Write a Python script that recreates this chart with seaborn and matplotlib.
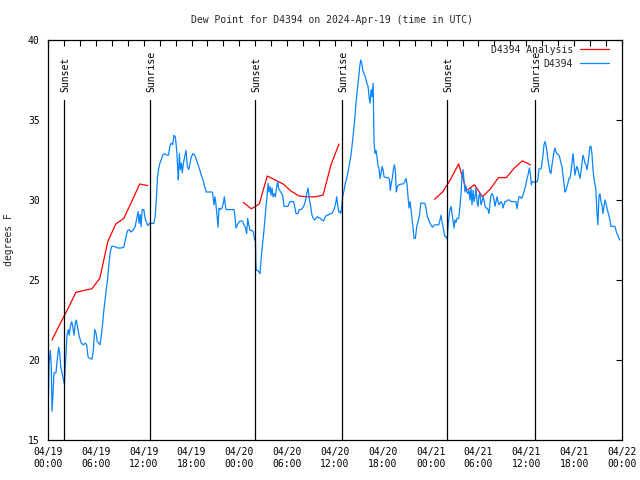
import numpy as np
import pandas as pd
import matplotlib
matplotlib.use("Agg")
import matplotlib.pyplot as plt
import matplotlib.transforms as mtransforms
import seaborn as sns

# ---------------- data ----------------
obs_hours = [0.03,0.13,0.29,0.41,0.50,0.63,0.75,1.00,1.13,1.34,1.47,1.59,1.76,1.92,2.05,2.13,2.26,2.38,2.55,2.67,2.80,2.97,3.10,3.26,3.43,3.55,3.73,3.93,4.18,4.43,4.68,4.85,5.02,5.27,5.52,5.68,5.86,6.02,6.18,6.36,6.52,6.69,6.86,6.98,7.15,7.31,7.49,7.65,7.81,7.99,8.31,8.74,9.16,9.50,9.66,9.82,10.0,10.2,10.36,10.65,10.93,11.18,
    11.31,11.43,11.56,11.68,11.81,12.02,12.14,12.31,12.52,12.73,13.02,13.27,13.44,13.61,13.74,13.86,14.03,14.20,14.37,14.62,14.87,15.12,15.30,15.46,15.64,15.80,15.97,16.15,16.27,16.35,16.48,16.60,16.73,16.85,16.98,17.15,17.31,17.48,17.65,17.81,17.98,18.19,18.40,18.60,18.82,19.03,19.23,19.44,19.65,19.86,20.28,20.57,20.65,20.82,20.95,21.07,21.20,21.33,21.45,21.58,21.83,21.99,22.12,22.24,22.33,22.83,23.33,23.46,23.58,23.75,24.00,24.21,24.42,24.58,24.75,24.92,25.05,25.17,25.34,25.55,25.76,25.93,26.02,26.08,26.13,26.30,26.46,26.59,26.72,26.84,26.97,27.09,27.22,27.35,27.47,27.60,27.72,27.85,27.97,28.10,28.22,28.35,28.51,28.69,28.81,28.94,29.19,29.44,29.60,29.85,30.10,30.35,30.60,30.81,30.94,31.11,31.36,31.52,31.77,32.07,32.27,32.45,32.61,32.78,32.95,33.11,33.28,33.45,33.62,33.78,33.95,34.16,34.37,34.58,34.78,34.96,35.12,35.37,35.62,35.87,36.09,36.21,36.34,36.46,36.59,36.71,36.84,36.96,37.13,37.29,37.47,37.63,37.79,37.97,38.13,38.30,38.47,38.63,38.80,38.98,39.10,39.23,39.35,39.48,39.65,39.81,39.99,40.15,40.27,40.40,40.53,40.65,40.78,40.85,40.90,41.02,41.15,41.27,41.40,41.52,41.65,41.78,41.90,42.03,42.15,42.40,42.65,42.82,42.94,43.07,43.19,43.32,43.45,43.57,43.70,43.82,44.03,44.32,44.57,44.75,44.91,45.04,45.16,45.29,45.41,45.54,45.66,45.79,45.91,46.08,46.26,46.51,46.63,46.76,47.01,47.26,47.42,47.59,47.76,47.92,48.09,48.26,48.51,48.76,49.01,49.17,49.30,49.42,49.55,49.67,49.80,49.92,50.09,50.17,50.30,50.42,50.55,50.67,50.80,50.93,51.05,51.18,51.30,51.51,51.68,51.81,51.93,52.06,52.18,52.31,52.43,52.56,52.68,52.81,52.93,53.06,53.18,53.31,53.43,53.56,53.68,53.81,53.94,54.06,54.19,54.31,54.44,54.57,54.69,54.82,54.94,55.07,55.19,55.32,55.44,55.57,55.69,55.82,55.95,56.07,56.20,56.32,56.45,56.57,56.70,56.82,56.95,57.07,57.20,57.32,57.45,57.66,57.86,58.08,58.33,58.58,58.70,58.83,58.96,59.08,59.24,59.42,59.58,59.75,59.93,60.09,60.25,60.38,60.50,60.63,60.75,60.88,61.05,61.21,61.38,61.46,61.59,61.84,61.96,62.09,62.21,62.34,62.46,62.59,62.71,62.84,62.96,63.09,63.22,63.34,63.47,63.59,63.72,63.84,64.09,64.22,64.34,64.47,64.60,64.72,64.85,64.97,65.10,65.22,65.35,65.47,65.60,65.72,65.85,65.97,66.10,66.23,66.35,66.48,66.60,66.73,66.85,66.98,67.10,67.23,67.35,67.48,67.60,67.73,67.86,67.98,68.11,68.23,68.36,68.48,68.61,68.73,68.86,68.98,69.11,69.23,69.36,69.48,69.61,69.74,69.86,69.99,70.11,70.24,70.36,70.49,70.61,70.86,71.11,71.24,71.36,71.49,71.61,71.74]
obs_dewpt = [17.1,19.8,20.6,19.6,16.8,17.9,19.2,19.2,19.9,20.8,20.4,19.6,19.2,18.85,18.5,19.2,20.4,21.55,21.9,21.55,22.1,22.4,22.1,21.55,22.3,22.5,22.0,21.45,21.05,20.95,21.05,20.95,20.2,20.1,20.05,20.6,21.9,21.7,21.15,21.05,20.95,21.55,22.3,23.0,23.75,24.4,25.1,26.05,26.75,27.1,27.1,27.0,27.0,27.05,27.4,27.8,28.1,28.15,28.0,28.1,28.33,28.96,
    29.27,28.54,29.1,28.33,29.4,29.4,28.96,28.65,28.4,28.54,28.54,28.54,28.96,30.2,31.46,31.9,32.3,32.5,32.8,32.9,32.8,32.8,33.4,33.55,33.45,34.05,33.95,33.1,31.9,31.25,32.9,31.9,32.3,31.7,32.3,32.7,33.1,32.1,31.9,32.3,32.7,32.9,32.8,32.55,32.2,31.9,31.55,31.25,30.85,30.5,30.5,30.5,30.45,29.7,30.2,29.7,29.05,28.3,29.5,29.4,29.5,29.8,30.2,29.7,29.4,29.4,29.4,28.95,28.25,28.45,28.65,28.7,28.65,28.45,28.3,27.9,28.85,28.5,28.1,28.1,28.0,27.5,27.5,26.0,25.6,25.6,25.5,25.4,26.25,26.9,27.5,28.1,28.85,29.6,30.2,31.05,30.5,30.85,30.3,30.75,30.2,30.4,30.2,30.85,31.15,30.7,30.5,30.3,29.6,29.6,29.6,29.9,29.9,29.9,29.6,29.15,29.15,29.4,29.4,29.6,29.9,30.4,30.75,30.1,29.6,29.05,28.85,28.75,28.85,28.95,28.9,28.85,28.75,28.7,28.95,29.05,29.05,29.15,29.15,29.4,29.8,30.2,29.7,29.25,29.3,29.15,29.5,30.2,30.6,31.05,31.35,31.75,32.2,32.7,33.35,34.15,35.0,36.05,36.9,37.7,38.35,38.75,38.55,38.1,37.9,37.7,37.3,37.1,36.45,36.05,36.9,36.45,37.3,35.2,33.6,32.9,33.1,32.7,32.1,32.0,31.35,31.65,32.1,31.9,31.45,31.4,31.4,31.3,30.6,31.1,31.35,31.9,32.2,31.8,30.5,30.85,30.95,31.0,31.0,31.15,31.35,30.95,30.2,29.5,29.9,29.4,28.85,28.25,27.6,27.6,28.35,28.85,29.15,29.8,29.8,29.8,29.5,28.95,28.75,28.55,28.4,28.3,28.45,28.45,28.45,28.75,29.05,28.65,28.35,28.0,27.7,27.7,27.55,28.3,28.95,29.4,29.6,29.15,28.75,28.25,28.75,28.6,28.85,28.85,29.6,30.4,31.45,31.9,31.25,30.5,30.85,30.5,30.4,30.6,30.0,30.75,29.7,30.6,29.9,30.2,30.75,29.9,29.6,30.3,30.4,29.7,29.9,30.2,30.0,29.6,29.5,29.5,29.4,29.15,29.8,30.3,30.4,30.3,30.0,29.6,29.9,30.2,29.9,29.7,29.8,29.9,29.8,29.5,29.7,29.9,29.9,30.0,30.0,29.9,29.9,29.9,29.9,29.45,29.9,30.2,30.2,30.1,30.3,30.6,30.95,31.35,31.65,32.0,31.65,30.95,31.15,31.15,31.1,31.15,31.15,31.35,31.95,31.95,32.3,32.8,33.45,33.65,33.45,33.0,32.5,32.1,31.75,31.65,32.2,32.6,33.0,33.25,33.0,32.9,32.8,32.6,32.3,32.1,31.55,31.05,30.5,30.6,30.85,31.05,31.35,31.35,31.75,32.3,32.9,32.3,31.55,31.9,32.1,31.9,31.65,31.35,31.75,32.3,32.8,32.6,32.3,32.2,31.9,32.3,32.8,33.35,33.35,32.9,31.9,31.35,31.0,30.6,29.2,28.45,30.2,30.4,29.9,29.7,29.15,29.6,30.0,29.8,29.5,29.25,29.0,28.75,28.35,28.35,28.35,28.1,27.9,27.8,27.6,27.5]

ana_hours_1 = [0.5,1.5,2.5,3.5,4.5,5.5,6.5,7.5,8.5,9.5,10.5,11.5,12.5]
ana_dewpt_1 = [21.25,22.25,23.2,24.23,24.35,24.45,25.1,27.4,28.5,28.85,29.9,31.0,30.9]
ana_hours_2 = [24.5,25.5,26.5,27.5,28.5,29.5,30.5,31.5,32.5,33.5,34.5,35.5,36.5]
ana_dewpt_2 = [29.85,29.45,29.75,31.5,31.25,31.0,30.55,30.25,30.2,30.2,30.3,32.2,33.5]
ana_hours_3 = [48.5,49.5,50.5,51.5,52.5,53.5,54.5,55.5,56.5,57.5,58.5,59.5,60.5]
ana_dewpt_3 = [30.05,30.5,31.3,32.25,30.6,30.95,30.2,30.7,31.4,31.4,32.0,32.45,32.2]

sun_hours = [2.03, 12.83, 26.02, 36.92, 50.07, 61.05]
sun_labels = ["Sunset", "Sunrise", "Sunset", "Sunrise", "Sunset", "Sunrise"]

xtick_hours = list(range(0, 73, 6))
xtick_labels = ["04/19\n00:00", "04/19\n06:00", "04/19\n12:00", "04/19\n18:00",
                "04/20\n00:00", "04/20\n06:00", "04/20\n12:00", "04/20\n18:00",
                "04/21\n00:00", "04/21\n06:00", "04/21\n12:00", "04/21\n18:00",
                "04/22\n00:00"]
ytick_vals = [15, 20, 25, 30, 35, 40]

# ---------------- tables ----------------
obs = pd.DataFrame({"hour": obs_hours, "dewpt": obs_dewpt})
ana = pd.DataFrame({
    "hour": ana_hours_1 + ana_hours_2 + ana_hours_3,
    "dewpt": ana_dewpt_1 + ana_dewpt_2 + ana_dewpt_3,
    "seg": [1] * len(ana_hours_1) + [2] * len(ana_hours_2) + [3] * len(ana_hours_3),
})

# ---------------- figure ----------------
sns.set_style("white")
plt.rcParams["font.family"] = ["DejaVu Sans Mono"]
FS = 7

fig = plt.figure(figsize=(6.4, 4.8), dpi=100)
ax = fig.add_axes([48 / 640, 1 - 440 / 480, 574 / 640, 400 / 480])

sns.lineplot(data=ana, x="hour", y="dewpt", units="seg", estimator=None, sort=False,
             color="#ff0000", lw=0.9, ax=ax, label="D4394 Analysis")
sns.lineplot(data=obs, x="hour", y="dewpt", estimator=None, sort=False,
             color="#0a84ff", lw=0.9, ax=ax, label="D4394")

trans = mtransforms.blended_transform_factory(ax.transData, ax.transAxes)
for t, lab in zip(sun_hours, sun_labels):
    ax.axvline(t, ymin=0, ymax=0.85, color="black", lw=0.9)
    ax.text(t + 0.15, 0.87, lab, transform=trans, rotation=90, ha="center", va="bottom",
            fontsize=FS, color="black")

ax.set_xlim(0, 72)
ax.set_ylim(15, 40)
ax.set_xticks(xtick_hours)
ax.set_xticklabels(xtick_labels, fontsize=FS)
ax.set_xticks(list(range(0, 73, 2)), minor=True)
ax.set_yticks(ytick_vals)
ax.set_yticklabels([str(v) for v in ytick_vals], fontsize=FS)
ax.tick_params(axis="both", which="both", direction="in", top=True, right=True,
               length=4, width=0.8, color="black", labelcolor="black")
ax.tick_params(axis="x", which="major", pad=5)
ax.tick_params(axis="y", which="major", pad=6)
for s in ax.spines.values():
    s.set_color("black")
    s.set_linewidth(0.9)

ax.set_xlabel("")
ax.set_ylabel("degrees F", fontsize=FS)
ax.yaxis.set_label_coords(-0.06, 0.5)

fig.text(332 / 640, 1 - 20 / 480, "Dew Point for D4394 on 2024-Apr-19 (time in UTC)",
         ha="center", va="center", fontsize=FS)

# legend: one entry per series
handles, labels = ax.get_legend_handles_labels()
seen = {}
for h, l in zip(handles, labels):
    if l not in seen:
        seen[l] = h
leg = ax.legend(list(seen.values()), list(seen.keys()),
                loc="upper right", bbox_to_anchor=(0.986, 1.0), frameon=False,
                markerfirst=False, fontsize=FS, handlelength=3.0, handletextpad=0.7,
                labelspacing=0.4, borderaxespad=0.2, borderpad=0.3)

fig.savefig("out.png", dpi=100, facecolor="white")
